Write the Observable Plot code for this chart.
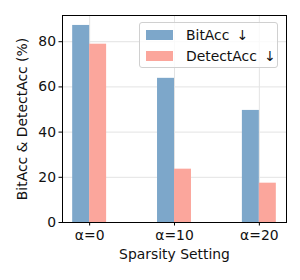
<!DOCTYPE html>
<html>
<head>
<meta charset="utf-8">
<script src="https://cdn.jsdelivr.net/npm/d3@7"></script>
<script src="https://cdn.jsdelivr.net/npm/@observablehq/plot@0.6"></script>
<style>
  html, body { margin: 0; padding: 0; background: #fff; }
  #wrap { position: relative; width: 300px; height: 280px; font-family: "DejaVu Sans"; }
  #legend { position: absolute; left: 139px; top: 22px; width: 137px; height: 44px;
    border: 1px solid #d0d0d0; border-radius: 3px; background: rgba(255,255,255,0.8);
    font-size: 13.9px; color: #111; font-family: "DejaVu Sans"; }
  .row { position: absolute; left: 6px; height: 14px; display: flex; align-items: center; white-space: pre; }
  .sw { width: 27px; height: 10px; margin-right: 13px; }
  .arr { margin-left: 3px; color: #111; }
</style>
</head>
<body>
<div id="wrap"></div>
<script>
const categories = ["α=0", "α=10", "α=20"];
const seriesNames = ["BitAcc ↓", "DetectAcc ↓"];
const bitAcc = [87.2, 63.8, 49.6];
const detectAcc = [78.9, 23.6, 17.4];
const colors = ["rgb(125,167,202)", "rgb(251,166,156)"];

const rows = [];
categories.forEach((c, i) => {
  rows.push({i, series: seriesNames[0], value: bitAcc[i], lo: i - 0.2, hi: i});
  rows.push({i, series: seriesNames[1], value: detectAcc[i], lo: i, hi: i + 0.2});
});

const chart = Plot.plot({
  width: 300,
  height: 280,
  marginLeft: 62,
  marginRight: 14,
  marginTop: 15,
  marginBottom: 58,
  style: {fontFamily: "DejaVu Sans", fontSize: "13.9px", color: "#111", background: "#fff"},
  x: {domain: [-0.32, 2.32], ticks: [0, 1, 2], tickFormat: d => categories[d], label: null},
  y: {domain: [0, 91.6], ticks: [0, 20, 40, 60, 80], label: null},
  color: {domain: seriesNames, range: colors},
  marks: [
    Plot.gridY([0, 20, 40, 60, 80], {stroke: "#e3e3e3", strokeOpacity: 1}),
    Plot.gridX([0, 1, 2], {stroke: "#e3e3e3", strokeOpacity: 1}),
    Plot.rectY(rows, {x1: "lo", x2: "hi", y1: 0, y2: "value", fill: "series"}),
    Plot.axisY({ticks: [0, 20, 40, 60, 80], tickSize: 3.5, tickPadding: 3, stroke: "black", strokeWidth: 1, fontSize: "13.9px", label: null}),
    Plot.axisX({ticks: [0, 1, 2], tickFormat: d => categories[d], tickSize: 3.5, tickPadding: 4, stroke: "black", fontSize: "13.9px", label: null}),
    Plot.frame({stroke: "black", strokeWidth: 1}),
    Plot.text(["Sparsity Setting"], {frameAnchor: "bottom", dy: 36, fontSize: 13.9, fill: "#111"}),
    Plot.text(["BitAcc & DetectAcc (%)"], {frameAnchor: "left", textAnchor: "middle", dx: -40, rotate: -90, fontSize: 13.9, fill: "#111"})
  ]
});

const wrap = document.getElementById("wrap");
wrap.appendChild(chart);
const legend = document.createElement("div");
legend.id = "legend";
seriesNames.forEach((s, k) => {
  const r = document.createElement("div");
  r.className = "row";
  r.style.top = (5 + k * 21) + "px";
  const sw = document.createElement("div");
  sw.className = "sw";
  sw.style.background = colors[k];
  r.appendChild(sw);
  const parts = s.split(" ");
  const t = document.createElement("span");
  t.textContent = parts[0] + " ";
  r.appendChild(t);
  const a = document.createElement("span");
  a.className = "arr";
  a.textContent = parts[1];
  r.appendChild(a);
  legend.appendChild(r);
});
wrap.appendChild(legend);
</script>
</body>
</html>
